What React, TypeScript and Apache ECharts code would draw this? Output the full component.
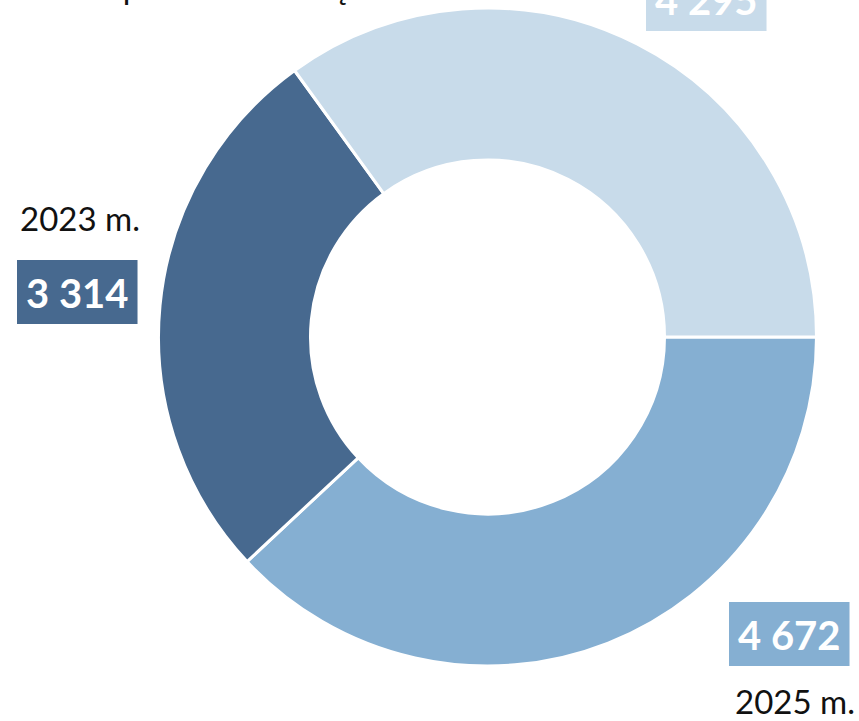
import React, { useEffect, useRef } from "react";
import * as echarts from "echarts";

const years = ["2025 m.", "2023 m.", "2024 m."];
const values = [4672, 3314, 4295];
const colors = ["#85AFD2", "#47698F", "#C8DBEA"];
const topNote = "transportavimo kelių dalis";

function fmt(v: number) {
  const s = String(v);
  return s.length > 3 ? s.slice(0, s.length - 3) + " " + s.slice(-3) : s;
}

export default function App() {
  const ref = useRef<HTMLDivElement>(null);
  useEffect(() => {
    if (!ref.current) return;
    const chart = echarts.init(ref.current, null, { renderer: "svg" });
    const boxPos = [
      { x: 729, y: 602 },
      { x: 17, y: 260 },
      { x: 646, y: -33 },
    ];
    chart.setOption({
      animation: false,
      series: [
        {
          type: "pie",
          center: [487.5, 337],
          radius: [177, 329],
          startAngle: 0,
          clockwise: true,
          silent: true,
          itemStyle: { borderColor: "#ffffff", borderWidth: 3 },
          labelLine: { show: false },
          label: { show: false },
          data: values.map((v, i) => ({
            name: years[i],
            value: v,
            itemStyle: { color: colors[i] },
          })),
        },
      ],
      graphic: [
        ...values.map((v, i) => ({
          type: "text",
          left: boxPos[i].x,
          top: boxPos[i].y,
          style: {
            text: fmt(v),
            fill: "#ffffff",
            font: "bold 40px Lato",
            lineHeight: 48,
            backgroundColor: colors[i],
            padding: [9, 9, 7, 9],
          },
        })),
        {
          type: "text",
          left: 20,
          top: 201,
          style: { text: years[1], fontFamily: "Lato", fontSize: 33, fill: "#111111" },
        },
        {
          type: "text",
          right: 4,
          top: 684,
          style: { text: years[0], fontFamily: "Lato", fontSize: 33, fill: "#111111" },
        },
        {
          type: "text",
          left: 50,
          top: -31,
          style: { text: topNote, fontFamily: "Lato", fontSize: 33, fill: "#111111" },
        },
      ],
    });
    return () => chart.dispose();
  }, []);
  return (
    <div
      ref={ref}
      style={{ position: "absolute", left: 0, top: 0, width: 859, height: 721 }}
    />
  );
}
